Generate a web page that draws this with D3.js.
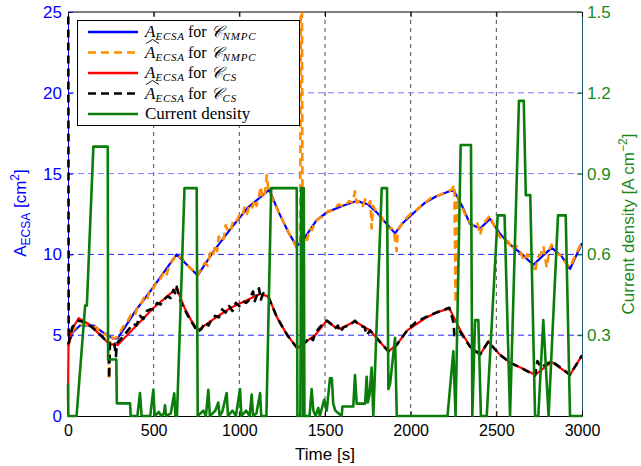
<!DOCTYPE html>
<html>
<head>
<meta charset="utf-8">
<script src="https://cdn.jsdelivr.net/npm/d3@7"></script>
<style>
  body { margin: 0; background: #fff; }
  svg { display: block; font-family: "Liberation Sans", Arial, sans-serif; }
</style>
</head>
<body>
<div id="chart"></div>
<script>
'use strict';

// time axis ticks (s)
var timeTicks = [0, 500, 1000, 1500, 2000, 2500, 3000];
var areaTicks = [0, 5, 10, 15, 20, 25];
var currentTicks = [0.3, 0.6, 0.9, 1.2, 1.5];

// A_ECSA for C_NMPC  [t, cm2]
var ecsaNmpc = [
    [0, 4.4], [30, 5.2], [70, 5.6], [150, 5.6], [200, 5.2], [260, 4.8], [290, 4.8],
    [400, 6.6], [500, 8.0], [634, 10.0], [700, 9.3], [757, 8.7], [850, 10.2],
    [950, 11.6], [1050, 12.9], [1175, 14.0], [1230, 12.6], [1290, 11.3], [1335, 10.5],
    [1380, 11.0], [1450, 12.1], [1510, 12.6], [1600, 13.0], [1685, 13.3], [1750, 13.1],
    [1802, 12.6], [1850, 12.0], [1909, 11.3], [1950, 11.9], [2000, 12.4], [2084, 13.2],
    [2150, 13.6], [2249, 14.0], [2300, 13.0], [2346, 11.9], [2405, 11.6], [2463, 12.2],
    [2520, 11.3], [2570, 10.7], [2640, 10.1], [2716, 9.35], [2770, 9.9], [2823, 10.4],
    [2880, 9.9], [2930, 9.1], [3000, 10.7]
];

// estimated A_ECSA for C_NMPC
var estNmpc = [
    [0, 4.3], [10, 4.7], [30, 5.3], [50, 5.5], [70, 5.6], [100, 5.7], [130, 5.5], [160, 5.5],
    [200, 5.2], [235, 4.9], [240, 2.3], [245, 4.9], [270, 4.8], [290, 4.9], [320, 5.5],
    [345, 5.8], [370, 6.3], [390, 6.2], [410, 6.9], [430, 7.0], [450, 7.5], [465, 7.3],
    [480, 7.9], [500, 7.9], [520, 8.4], [540, 8.5], [560, 8.9], [575, 8.7], [590, 9.3],
    [610, 9.6], [634, 10.0], [660, 9.8], [700, 9.3], [730, 9.0], [757, 8.7], [780, 9.2],
    [800, 9.5], [815, 9.3], [830, 10.1], [845, 9.9], [860, 10.6], [870, 10.2], [880, 11.1],
    [895, 10.8], [910, 11.0], [920, 11.8], [935, 11.4], [950, 11.5], [965, 12.1], [980, 12.0],
    [1000, 12.4], [1015, 12.3], [1030, 12.9], [1045, 12.5], [1060, 13.1], [1075, 12.9],
    [1090, 13.4], [1100, 13.0], [1115, 13.6], [1125, 14.2], [1135, 13.5], [1150, 13.8],
    [1160, 14.9], [1170, 14.0], [1175, 13.9], [1230, 12.6], [1290, 11.3], [1335, 10.4],
    [1355, 10.7], [1362, 40], [1369, 10.9], [1380, 11.0], [1395, 10.9], [1410, 11.6],
    [1425, 11.5], [1440, 12.0], [1460, 12.2], [1480, 12.3], [1500, 12.4], [1520, 12.7],
    [1540, 12.7], [1560, 12.9], [1580, 13.1], [1600, 13.0], [1620, 13.0], [1640, 13.3],
    [1660, 13.2], [1675, 13.9], [1685, 13.2], [1700, 13.3], [1720, 13.0], [1735, 13.4],
    [1750, 13.1], [1765, 13.3], [1772, 11.6], [1780, 13.0], [1802, 12.6], [1830, 12.3],
    [1850, 11.9], [1870, 11.6], [1890, 11.6], [1905, 11.2], [1918, 10.2], [1925, 11.5],
    [1950, 11.9], [1980, 12.3], [2000, 12.5], [2030, 12.7], [2060, 13.0], [2084, 13.2],
    [2120, 13.5], [2150, 13.6], [2200, 13.8], [2240, 14.0], [2255, 14.3], [2262, 7.0],
    [2270, 13.6], [2300, 12.9], [2330, 12.2], [2346, 12.0], [2370, 11.7], [2390, 11.9],
    [2405, 11.2], [2420, 11.8], [2440, 12.1], [2463, 12.4], [2490, 11.7], [2520, 11.1],
    [2545, 10.9], [2570, 10.8], [2590, 10.3], [2610, 10.6], [2640, 10.2], [2660, 9.6],
    [2680, 10.0], [2700, 9.7], [2716, 9.1], [2726, 8.9], [2740, 9.8], [2760, 10.0],
    [2775, 10.5], [2794, 9.2], [2810, 10.3], [2823, 10.6], [2850, 10.1], [2880, 9.9],
    [2910, 9.4], [2930, 9.2], [2960, 9.9], [3000, 10.8]
];

// A_ECSA for C_CS
var ecsaCs = [
    [0, 1.0], [3, 4.4], [25, 5.4], [62, 6.05], [120, 5.7], [180, 5.1], [240, 4.45], [290, 4.4],
    [400, 5.6], [500, 6.7], [634, 7.9], [680, 6.7], [720, 5.9], [757, 5.3], [850, 6.0],
    [950, 6.7], [1050, 7.2], [1120, 7.55], [1169, 7.4], [1220, 6.1], [1280, 5.0], [1338, 4.2],
    [1390, 4.6], [1442, 5.0], [1510, 5.9], [1558, 5.5], [1588, 5.4], [1675, 5.85], [1763, 5.3],
    [1820, 4.6], [1870, 4.0], [1918, 4.4], [1980, 5.3], [2084, 6.05], [2150, 6.4], [2226, 6.66],
    [2290, 5.3], [2346, 4.3], [2405, 3.8], [2453, 4.6], [2520, 3.8], [2580, 3.3], [2650, 2.95],
    [2726, 2.55], [2823, 3.35], [2930, 2.55], [3000, 3.75]
];

// estimated A_ECSA for C_CS
var estCs = [
    [0, 40], [4, 4.5], [25, 5.5], [62, 5.9], [100, 5.8], [140, 5.5], [180, 5.1], [220, 4.7],
    [238, 4.5], [240, 2.3], [245, 4.6], [270, 4.5], [280, 3.7], [285, 4.5], [320, 4.9],
    [350, 5.3], [380, 5.7], [400, 5.6], [420, 6.2], [440, 6.0], [460, 6.5], [480, 6.6],
    [500, 6.6], [520, 7.0], [540, 6.9], [560, 7.2], [580, 7.4], [600, 7.3], [615, 7.8],
    [625, 7.6], [634, 8.0], [660, 7.0], [700, 6.2], [757, 5.2], [780, 5.4], [800, 5.8],
    [820, 5.6], [840, 6.0], [860, 6.2], [880, 6.1], [900, 6.6], [920, 6.4], [940, 6.8],
    [960, 6.5], [980, 7.0], [1000, 6.8], [1020, 7.1], [1040, 7.0], [1060, 7.2], [1080, 7.7],
    [1090, 7.1], [1100, 7.4], [1115, 7.9], [1125, 7.2], [1140, 7.6], [1169, 7.4], [1220, 6.1],
    [1280, 5.0], [1338, 4.2], [1390, 4.6], [1410, 4.9], [1430, 4.7], [1442, 5.1], [1470, 5.5],
    [1510, 5.9], [1535, 5.7], [1558, 5.4], [1575, 5.6], [1588, 5.2], [1610, 5.5], [1640, 5.6],
    [1675, 5.9], [1700, 5.6], [1730, 5.5], [1745, 5.0], [1763, 5.3], [1820, 4.6], [1870, 4.0],
    [1918, 4.4], [1980, 5.3], [2030, 5.8], [2084, 6.1], [2150, 6.4], [2226, 6.7], [2250, 5.8],
    [2255, 5.0], [2290, 5.2], [2346, 4.3], [2405, 3.8], [2453, 4.6], [2520, 3.8], [2580, 3.3],
    [2650, 2.95], [2726, 2.5], [2740, 3.4], [2760, 3.0], [2823, 3.4], [2930, 2.55], [3000, 3.75]
];

// current density [t, A/cm2]
var currentDensity = [
    [0, 0.12], [2, 0], [50, 0], [100, 0.41], [110, 0.41], [148, 1.0], [232, 1.0], [234, 0.21],
    [282, 0.21], [285, 0.047], [362, 0.047], [366, 0], [405, 0], [420, 0.085], [430, 0],
    [480, 0], [498, 0.097], [506, 0], [530, 0.015], [545, 0], [560, 0.01], [566, 0.04],
    [572, 0], [600, 0.01], [620, 0.084], [627, 0], [636, 0], [680, 0.846], [751, 0.846],
    [757, 0], [790, 0.02], [805, 0], [819, 0.097], [828, 0], [860, 0.02], [877, 0.05],
    [885, 0], [900, 0.015], [926, 0.085], [934, 0], [960, 0.02], [980, 0], [1004, 0.1],
    [1012, 0], [1040, 0.02], [1060, 0], [1072, 0.08], [1080, 0], [1100, 0.01], [1121, 0.085],
    [1128, 0], [1158, 0], [1186, 0.846], [1335, 0.846], [1339, 0], [1356, 0], [1361, 0.846],
    [1368, 0.846], [1373, 0], [1376, 0.846], [1380, 0], [1410, 0], [1422, 0.1], [1432, 0.02],
    [1445, 0], [1461, 0.03], [1470, 0], [1495, 0.06], [1510, 0.02], [1529, 0.14], [1540, 0.14],
    [1548, 0.046], [1560, 0.02], [1597, 0], [1602, 0.035], [1665, 0.035], [1675, 0.152],
    [1685, 0.046], [1734, 0.046], [1743, 0.146], [1750, 0.05], [1760, 0.08], [1772, 0.18],
    [1782, 0], [1831, 0.846], [1862, 0.846], [1870, 0.1], [1880, 0.12], [1909, 0.29],
    [1919, 0], [2215, 0], [2249, 0.24], [2262, 0], [2292, 1.006], [2352, 1.006], [2360, 0],
    [2376, 0.356], [2395, 0.356], [2410, 0], [2444, 0], [2508, 0.745], [2548, 0.745],
    [2580, 0], [2632, 1.17], [2660, 1.17], [2672, 0.82], [2698, 0.82], [2726, 0], [2745, 0],
    [2774, 0.356], [2805, 0], [2860, 0.745], [2905, 0.745], [2930, 0], [3000, 0]
];

var width  = 641,
    height = 466,
    margin = {top: 12, right: 59, bottom: 50, left: 68},
    plotW  = width - margin.left - margin.right,
    plotH  = height - margin.top - margin.bottom;

var BLUE = '#0000ff', ORANGE = '#ff8c00', RED = '#ff0000', GREEN = '#0b7d0b', GREEN_TXT = '#1a8a1a';

var svg = d3.select('#chart').append('svg')
    .attr('width', width)
    .attr('height', height);

var x  = d3.scaleLinear().domain([0, 3000]).range([margin.left, margin.left + plotW]);
var yL = d3.scaleLinear().domain([0, 25]).range([margin.top + plotH, margin.top]);
var yR = d3.scaleLinear().domain([0, 1.5]).range([margin.top + plotH, margin.top]);

// clip a little wider than the frame so lines on the edges keep their full width
svg.append('clipPath').attr('id', 'plot-clip')
    .append('rect')
    .attr('x', margin.left - 2).attr('y', margin.top)
    .attr('width', plotW + 2).attr('height', plotH + 2);

// grid
var grid = svg.append('g');
grid.selectAll('.vgrid')
    .data(timeTicks.slice(1, -1))
    .enter().append('line')
    .attr('x1', function (d) { return x(d); })
    .attr('x2', function (d) { return x(d); })
    .attr('y1', margin.top).attr('y2', margin.top + plotH)
    .attr('stroke', '#222').attr('stroke-width', 0.8)
    .attr('stroke-dasharray', '4,4');

grid.selectAll('.hgrid')
    .data(areaTicks.slice(1, -1))
    .enter().append('line')
    .attr('x1', margin.left).attr('x2', margin.left + plotW)
    .attr('y1', function (d) { return yL(d); })
    .attr('y2', function (d) { return yL(d); })
    .attr('stroke', function (d) { return d > 10 ? '#7b7bff' : '#2222ff'; })
    .attr('stroke-width', 1)
    .attr('stroke-dasharray', '6,4');

// axes frame
svg.append('line')
    .attr('x1', margin.left).attr('x2', margin.left + plotW)
    .attr('y1', margin.top).attr('y2', margin.top)
    .attr('stroke', '#000');

var leftAxis = svg.append('g')
    .attr('transform', 'translate(' + margin.left + ',0)')
    .call(d3.axisLeft(yL).tickValues(areaTicks).tickSizeInner(-5).tickSizeOuter(0).tickPadding(6));
leftAxis.select('.domain').attr('stroke', BLUE);
leftAxis.selectAll('.tick line').attr('stroke', BLUE);
leftAxis.selectAll('.tick text').attr('fill', BLUE).style('font-size', '17px');

var rightAxis = svg.append('g')
    .attr('transform', 'translate(' + (margin.left + plotW) + ',0)')
    .call(d3.axisRight(yR).tickValues(currentTicks).tickFormat(d3.format('.1f'))
        .tickSizeInner(-5).tickSizeOuter(0).tickPadding(5));
rightAxis.select('.domain').attr('stroke', '#1d5a78');
rightAxis.selectAll('.tick line').attr('stroke', GREEN);
rightAxis.selectAll('.tick text').attr('fill', GREEN_TXT).style('font-size', '17px');

var bottomAxis = svg.append('g')
    .attr('transform', 'translate(0,' + (margin.top + plotH) + ')')
    .call(d3.axisBottom(x).tickValues(timeTicks).tickFormat(d3.format('d'))
        .tickSizeInner(-5).tickSizeOuter(0).tickPadding(9));
bottomAxis.select('.domain').attr('stroke', '#000');
bottomAxis.selectAll('.tick text').attr('fill', '#000').style('font-size', '16px');

svg.append('g')
    .attr('transform', 'translate(0,' + margin.top + ')')
    .call(d3.axisTop(x).tickValues(timeTicks).tickSizeInner(-5).tickSizeOuter(0).tickFormat(''))
    .select('.domain').remove();

// series
var lineL = d3.line()
    .x(function (d) { return x(d[0]); })
    .y(function (d) { return yL(d[1]); });

var lineR = d3.line()
    .x(function (d) { return x(d[0]); })
    .y(function (d) { return yR(d[1]); });

var marks = svg.append('g').attr('clip-path', 'url(#plot-clip)');

var series = [
    {data: ecsaNmpc, color: BLUE, width: 2.2, dash: null, line: lineL},
    {data: estNmpc, color: ORANGE, width: 2.6, dash: '8,5', line: lineL},
    {data: ecsaCs, color: RED, width: 2.2, dash: null, line: lineL},
    {data: estCs, color: '#000', width: 2.6, dash: '8,5', line: lineL},
    {data: currentDensity, color: GREEN, width: 2.6, dash: null, line: lineR}
];

series.forEach(function (s) {
    marks.append('path')
        .datum(s.data)
        .attr('d', s.line)
        .attr('fill', 'none')
        .attr('stroke', s.color)
        .attr('stroke-width', s.width)
        .attr('stroke-linejoin', 'round')
        .attr('stroke-dasharray', s.dash);
});

// axis titles
var yTitle = svg.append('text')
    .attr('transform', 'translate(26,213) rotate(-90)')
    .attr('text-anchor', 'middle')
    .attr('fill', BLUE)
    .style('font-size', '17px');
yTitle.append('tspan').text('A');
yTitle.append('tspan').attr('dy', 4).style('font-size', '12px').text('ECSA');
yTitle.append('tspan').attr('dy', -4).text(' [cm');
yTitle.append('tspan').attr('dy', -7).style('font-size', '12px').text('2');
yTitle.append('tspan').attr('dy', 7).text(']');

var y2Title = svg.append('text')
    .attr('transform', 'translate(634,224) rotate(-90)')
    .attr('text-anchor', 'middle')
    .attr('fill', GREEN_TXT)
    .style('font-size', '17px');
y2Title.append('tspan').text('Current density [A cm');
y2Title.append('tspan').attr('dy', -7).style('font-size', '12px').text('\u22122');
y2Title.append('tspan').attr('dy', 7).text(']');

svg.append('text')
    .attr('x', x(1500)).attr('y', 460)
    .attr('text-anchor', 'middle')
    .attr('fill', '#000')
    .style('font-size', '17px')
    .text('Time [s]');

// legend
var legendItems = [
    {hat: false, sub: 'NMPC', color: BLUE, dash: null},
    {hat: true, sub: 'NMPC', color: ORANGE, dash: '8,5'},
    {hat: false, sub: 'CS', color: RED, dash: null},
    {hat: true, sub: 'CS', color: '#000', dash: '8,5'},
    {label: 'Current density', color: GREEN, dash: null}
];
var legendRows = [32, 52.5, 73, 93.5, 114];

var legend = svg.append('g');
legend.append('rect')
    .attr('x', 77.5).attr('y', 20.5)
    .attr('width', 222).attr('height', 105)
    .attr('fill', '#fff').attr('stroke', '#000').attr('stroke-width', 1);

legendItems.forEach(function (item, i) {
    var ly = legendRows[i];
    legend.append('line')
        .attr('x1', 88).attr('x2', 138)
        .attr('y1', ly).attr('y2', ly)
        .attr('stroke', item.color).attr('stroke-width', 2.6)
        .attr('stroke-dasharray', item.dash);

    var t = legend.append('text')
        .attr('x', 145).attr('y', ly + 5)
        .attr('fill', '#000')
        .style('font-family', '"Liberation Serif", "DejaVu Serif", serif')
        .style('font-size', '16px');

    if (item.label) {
        t.style('font-size', '17px').text(item.label);
        return;
    }
    t.append('tspan').style('font-style', 'italic').style('font-size', '17px').text('A');
    t.append('tspan').attr('dy', 3).style('font-style', 'italic').style('font-size', '11px')
        .style('letter-spacing', '0.8px').text('ECSA');
    t.append('tspan').attr('dy', -3).attr('dx', 3).text('for ');
    t.append('tspan').style('font-style', 'italic').text('\uD835\uDC9E');
    t.append('tspan').attr('dy', 3).style('font-style', 'italic').style('font-size', '11px')
        .style('letter-spacing', '0.8px').text(item.sub);

    if (item.hat) {
        legend.append('path')
            .attr('d', 'M' + 146 + ',' + (ly - 9) + 'L' + 152.5 + ',' + (ly - 13) + 'L' + 159 + ',' + (ly - 9))
            .attr('fill', 'none').attr('stroke', '#000').attr('stroke-width', 0.9);
    }
});
</script>
</body>
</html>
